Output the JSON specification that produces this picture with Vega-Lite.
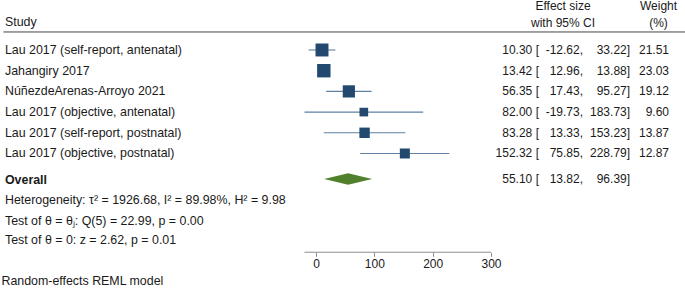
{
  "$schema": "https://vega.github.io/schema/vega-lite/v6.json",
  "width": 685,
  "height": 291,
  "padding": 0,
  "autosize": {"type": "none"},
  "config": {
    "view": {"stroke": null},
    "font": "Liberation Sans",
    "locale": {"number": {"decimal": ".", "thousands": ",", "grouping": [3], "currency": ["$", ""], "minus": "-"}},
    "text": {"fontSize": 12, "color": "#1a1a1a", "baseline": "middle"}
  },
  "datasets": {
    "rows": [
      {"row": 1, "study": "Lau 2017 (self-report, antenatal)", "est": 10.30, "lo": -12.62, "hi": 33.22, "weight": 21.51},
      {"row": 2, "study": "Jahangiry 2017", "est": 13.42, "lo": 12.96, "hi": 13.88, "weight": 23.03},
      {"row": 3, "study": "NúñezdeArenas-Arroyo 2021", "est": 56.35, "lo": 17.43, "hi": 95.27, "weight": 19.12},
      {"row": 4, "study": "Lau 2017 (objective, antenatal)", "est": 82.00, "lo": -19.73, "hi": 183.73, "weight": 9.60},
      {"row": 5, "study": "Lau 2017 (self-report, postnatal)", "est": 83.28, "lo": 13.33, "hi": 153.23, "weight": 13.87},
      {"row": 6, "study": "Lau 2017 (objective, postnatal)", "est": 152.32, "lo": 75.85, "hi": 228.79, "weight": 12.87},
      {"row": 7.23, "study": "Overall", "est": 55.10, "lo": 13.82, "hi": 96.39, "weight": null}
    ],
    "diamond": [
      {"x": 13.82, "top": 7.23, "bottom": 7.23},
      {"x": 55.10, "top": 6.95, "bottom": 7.51},
      {"x": 96.39, "top": 7.23, "bottom": 7.23}
    ],
    "notes": [
      {"row": 8.25, "text": "Heterogeneity: τ² = 1926.68, I² = 89.98%, H² = 9.98"},
      {"row": 9.24, "text": "Test of θ = θⱼ: Q(5) = 22.99, p = 0.00"},
      {"row": 10.18, "text": "Test of θ = 0: z = 2.62, p = 0.01"}
    ]
  },
  "layer": [
    {
      "data": {"name": "rows"},
      "transform": [{"filter": "datum.weight != null"}],
      "mark": {"type": "rule", "color": "#5f80a3", "strokeWidth": 1.1},
      "encoding": {
        "x": {"field": "lo", "type": "quantitative", "title": null,
              "scale": {"domain": [-541.7, 632.6], "nice": false, "zero": false},
              "axis": {"values": [0, 100, 200, 300], "domain": false, "grid": false, "offset": -38.7,
                       "tickSize": 4, "tickColor": "#8c8c8c", "tickWidth": 1, "labelFontSize": 12, "labelColor": "#1a1a1a",
                       "labelPadding": 2, "labelFont": "Liberation Sans", "title": null}},
        "x2": {"field": "hi"},
        "y": {"field": "row", "type": "quantitative", "axis": null,
              "scale": {"domain": [-1.415, 12.643], "reverse": true, "nice": false, "zero": false}}
      }
    },
    {
      "data": {"name": "rows"},
      "transform": [{"filter": "datum.weight != null"}],
      "mark": {"type": "square", "color": "#24496f", "opacity": 1},
      "encoding": {
        "x": {"field": "est", "type": "quantitative", "title": null},
        "y": {"field": "row", "type": "quantitative"},
        "size": {"field": "weight", "type": "quantitative", "legend": null,
                 "scale": {"domain": [0, 25], "range": [0, 195], "zero": true}}
      }
    },
    {
      "data": {"name": "diamond"},
      "mark": {"type": "area", "color": "#52812e", "orient": "vertical"},
      "encoding": {
        "x": {"field": "x", "type": "quantitative", "title": null},
        "y": {"field": "top", "type": "quantitative"},
        "y2": {"field": "bottom"}
      }
    },
    {
      "data": {"name": "rows"},
      "transform": [{"filter": "datum.weight != null"}],
      "mark": {"type": "text", "align": "left", "fontSize": 12.4},
      "encoding": {
        "x": {"datum": -533.2, "type": "quantitative"},
        "y": {"field": "row", "type": "quantitative"},
        "text": {"field": "study"}
      }
    },
    {
      "data": {"name": "rows"},
      "transform": [{"filter": "datum.weight == null"}],
      "mark": {"type": "text", "align": "left", "fontWeight": "bold", "dy": 1.5, "fontSize": 12.4},
      "encoding": {
        "x": {"datum": -533.2, "type": "quantitative"},
        "y": {"field": "row", "type": "quantitative"},
        "text": {"field": "study"}
      }
    },
    {
      "data": {"name": "rows"},
      "mark": {"type": "text", "align": "right"},
      "encoding": {
        "x": {"datum": 370.8, "type": "quantitative"},
        "y": {"field": "row", "type": "quantitative"},
        "text": {"field": "est", "format": ".2f"}
      }
    },
    {
      "data": {"name": "rows"},
      "mark": {"type": "text", "align": "left"},
      "encoding": {
        "x": {"datum": 376.8, "type": "quantitative"},
        "y": {"field": "row", "type": "quantitative"},
        "text": {"value": "["}
      }
    },
    {
      "data": {"name": "rows"},
      "mark": {"type": "text", "align": "right"},
      "encoding": {
        "x": {"datum": 452.1, "type": "quantitative"},
        "y": {"field": "row", "type": "quantitative"},
        "text": {"field": "lo", "format": ".2f"}
      }
    },
    {
      "data": {"name": "rows"},
      "mark": {"type": "text", "align": "left"},
      "encoding": {
        "x": {"datum": 452.1, "type": "quantitative"},
        "y": {"field": "row", "type": "quantitative"},
        "text": {"value": ","}
      }
    },
    {
      "data": {"name": "rows"},
      "mark": {"type": "text", "align": "right"},
      "encoding": {
        "x": {"datum": 532.7, "type": "quantitative"},
        "y": {"field": "row", "type": "quantitative"},
        "text": {"field": "hi", "format": ".2f"}
      }
    },
    {
      "data": {"name": "rows"},
      "mark": {"type": "text", "align": "left"},
      "encoding": {
        "x": {"datum": 532.7, "type": "quantitative"},
        "y": {"field": "row", "type": "quantitative"},
        "text": {"value": "]"}
      }
    },
    {
      "data": {"name": "rows"},
      "transform": [{"filter": "datum.weight != null"}],
      "mark": {"type": "text", "align": "right"},
      "encoding": {
        "x": {"datum": 605.2, "type": "quantitative"},
        "y": {"field": "row", "type": "quantitative"},
        "text": {"field": "weight", "format": ".2f"}
      }
    },
    {
      "data": {"name": "notes"},
      "mark": {"type": "text", "align": "left", "fontSize": 12.4},
      "encoding": {
        "x": {"datum": -533.2, "type": "quantitative"},
        "y": {"field": "row", "type": "quantitative"},
        "text": {"field": "text"}
      }
    },
    {
      "data": {"values": [{"label": "Random-effects REML model", "row": 12.16}]},
      "mark": {"type": "text", "align": "left", "fontSize": 12.4},
      "encoding": {
        "x": {"datum": -539.2, "type": "quantitative"},
        "y": {"field": "row", "type": "quantitative"},
        "text": {"field": "label"}
      }
    },
    {
      "data": {"values": [{"label": "Study", "col": -533.2, "row": -0.35}]},
      "mark": {"type": "text", "align": "left", "fontSize": 12.4},
      "encoding": {
        "x": {"field": "col", "type": "quantitative"},
        "y": {"field": "row", "type": "quantitative"},
        "text": {"field": "label"}
      }
    },
    {
      "data": {"values": [
        {"label": "Effect size", "col": 423.5, "row": -1.13},
        {"label": "with 95% CI", "col": 423.5, "row": -0.29},
        {"label": "Weight", "col": 587.2, "row": -1.13},
        {"label": "(%)", "col": 587.2, "row": -0.29}
      ]},
      "mark": {"type": "text", "align": "center"},
      "encoding": {
        "x": {"field": "col", "type": "quantitative"},
        "y": {"field": "row", "type": "quantitative"},
        "text": {"field": "label"}
      }
    },
    {
      "data": {"values": [{"x0": -535.8, "x1": 632.6, "row": 0.13}]},
      "mark": {"type": "rule", "color": "#444444", "strokeWidth": 1},
      "encoding": {
        "x": {"field": "x0", "type": "quantitative"},
        "x2": {"field": "x1"},
        "y": {"field": "row", "type": "quantitative"}
      }
    },
    {
      "data": {"values": [{"x0": -19.73, "x1": 300, "row": 10.77}]},
      "mark": {"type": "rule", "color": "#8c8c8c", "strokeWidth": 1},
      "encoding": {
        "x": {"field": "x0", "type": "quantitative"},
        "x2": {"field": "x1"},
        "y": {"field": "row", "type": "quantitative"}
      }
    }
  ]
}
